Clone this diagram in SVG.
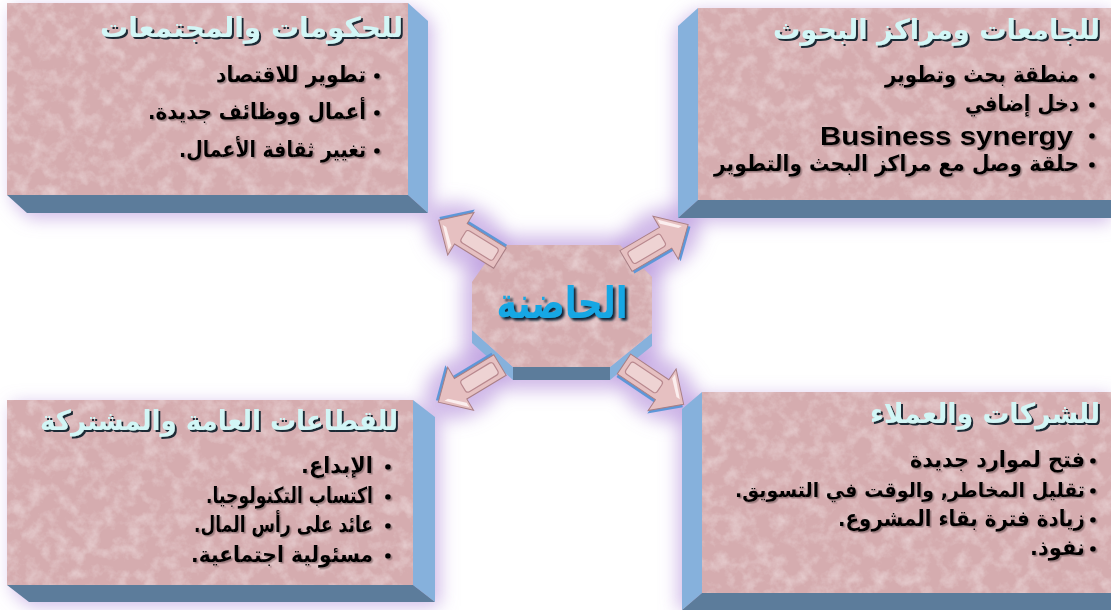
<svg xmlns="http://www.w3.org/2000/svg" xmlns:xlink="http://www.w3.org/1999/xlink" width="1111" height="610" viewBox="0 0 1111 610">
  <style>
    .face { fill: #d5acaf; }
    .sideLight { fill: #86b1dc; }
    .sideDark { fill: #5c7c9b; }
    .glow { fill: #b08ad8; opacity: 0.6; }
    .title { font-family: "DejaVu Sans", "Liberation Sans", sans-serif; font-weight: bold; font-size: 27.5px; fill: #d2f6f6; }
    .item { font-family: "DejaVu Sans", "Liberation Sans", sans-serif; font-weight: bold; font-size: 22px; fill: #000; }
    .item.long { font-size: 20px; }
    .latin { font-family: "Liberation Sans", Arial, sans-serif; font-weight: bold; font-size: 25px; fill: #000; }
    .hub { font-family: "DejaVu Sans", "Liberation Sans", sans-serif; font-weight: bold; font-size: 44px; fill: #18a7e4; }
    .bullet { fill: #000; }
    .arrowBody { fill: #e6c0c1; stroke: #a97f85; stroke-width: 1; }
    .arrowBack { fill: #5e97d8; }
    .arrowInner { fill: #eed3d3; stroke: #b9898f; stroke-width: 1.2; }
    .arrowShine { fill: #fbeeee; }
  </style>
  <defs>
    <filter id="mottle" x="0" y="0" width="1" height="1">
      <feTurbulence type="fractalNoise" baseFrequency="0.07" numOctaves="4" seed="7" result="n"/>
      <feColorMatrix in="n" type="matrix" values="0 0 0 0 0.92  0 0 0 0 0.81  0 0 0 0 0.82  1.0 0 0 0 -0.42" result="c"/>
      <feComposite in="c" in2="SourceGraphic" operator="in" result="t"/>
      <feMerge><feMergeNode in="SourceGraphic"/><feMergeNode in="t"/></feMerge>
    </filter>
    <filter id="soft" x="-30%" y="-30%" width="160%" height="160%">
      <feGaussianBlur stdDeviation="9"/>
    </filter>
    <filter id="titleShadow" x="-5%" y="-20%" width="110%" height="150%">
      <feDropShadow dx="2" dy="2" stdDeviation="0.6" flood-color="#1d2a36" flood-opacity="1"/>
    </filter>
    <filter id="itemShadow" x="-5%" y="-20%" width="110%" height="150%">
      <feDropShadow dx="1.5" dy="1.5" stdDeviation="0.6" flood-color="#7d6465" flood-opacity="0.7"/>
    </filter>
    <filter id="hubShadow" x="-10%" y="-20%" width="120%" height="150%">
      <feDropShadow dx="2.5" dy="2.5" stdDeviation="0.8" flood-color="#0d2236" flood-opacity="1"/>
    </filter>
    <!-- arrow pointing along +x, tail at origin -->
    <path id="arrowPath" d="M0,-12 H46 V-25 L72,0 L46,25 V12 H0 Z"/>
    <rect id="arrowInnerRect" x="5" y="-7" width="38" height="14" rx="3"/>
    <g id="arrow">
      <use xlink:href="#arrowPath" class="arrowBack" transform="translate(1,3)"/>
      <use xlink:href="#arrowPath" class="arrowBody"/>
      <use xlink:href="#arrowInnerRect" class="arrowInner"/>
      <polygon class="arrowShine" points="48,-20 66,-2 62,-2 48,-15"/>
    </g>
  </defs>

  <rect width="1111" height="610" fill="#ffffff"/>

  <!-- lavender haze behind blocks and arrows -->
  <g id="haze" filter="url(#soft)">
    <polygon class="glow" points="12,8 412,8 432,24 432,218 30,218 12,200"/>
    <polygon class="glow" points="694,12 1111,12 1111,222 676,222 676,30"/>
    <polygon class="glow" points="12,404 417,404 440,420 440,606 30,606 12,590"/>
    <polygon class="glow" points="698,396 1111,396 1111,610 678,610 678,414"/>
    <polygon class="glow" points="495,236 624,236 662,272 662,347 614,390 508,390 463,350 463,278"/>
    <ellipse class="glow" cx="467" cy="237" rx="44" ry="30" transform="rotate(32 467 237)"/>
    <ellipse class="glow" cx="659" cy="241" rx="44" ry="30" transform="rotate(-30 659 241)"/>
    <ellipse class="glow" cx="465" cy="385" rx="44" ry="30" transform="rotate(-31 465 385)"/>
    <ellipse class="glow" cx="657" cy="387" rx="44" ry="30" transform="rotate(34 657 387)"/>
  </g>

  <!-- governments and communities -->
  <g id="node-governments">
    <polygon class="sideLight" points="408,3 428,21 428,213 408,195"/>
    <polygon class="sideDark" points="7,195 408,195 428,213 27,213"/>
    <rect class="face" x="7" y="3" width="401" height="192" filter="url(#mottle)"/>
    <text class="title" x="403" y="37" text-anchor="end" textLength="303" lengthAdjust="spacingAndGlyphs" filter="url(#titleShadow)">للحكومات والمجتمعات</text>
    <g filter="url(#itemShadow)">
      <circle class="bullet" cx="377" cy="76" r="2.8"/>
      <circle class="bullet" cx="377" cy="113" r="2.8"/>
      <circle class="bullet" cx="377" cy="151" r="2.8"/>
      <text class="item" x="366" y="82" text-anchor="end" textLength="150" lengthAdjust="spacingAndGlyphs">تطوير للاقتصاد</text>
      <text class="item" x="366" y="119" text-anchor="end" textLength="218" lengthAdjust="spacingAndGlyphs">أعمال ووظائف جديدة.&#x200F;</text>
      <text class="item" x="366" y="157" text-anchor="end" textLength="187" lengthAdjust="spacingAndGlyphs">تغيير ثقافة الأعمال.&#x200F;</text>
    </g>
  </g>

  <!-- universities and research centres -->
  <g id="node-universities">
    <polygon class="sideLight" points="698,8 678,26 678,218 698,200"/>
    <polygon class="sideDark" points="698,200 1111,200 1111,218 678,218"/>
    <rect class="face" x="698" y="8" width="413" height="192" filter="url(#mottle)"/>
    <text class="title" x="1100" y="39" text-anchor="end" textLength="327" lengthAdjust="spacingAndGlyphs" filter="url(#titleShadow)">للجامعات ومراكز البحوث</text>
    <g filter="url(#itemShadow)">
      <circle class="bullet" cx="1092" cy="76" r="2.8"/>
      <circle class="bullet" cx="1092" cy="105" r="2.8"/>
      <circle class="bullet" cx="1092" cy="136" r="2.8"/>
      <circle class="bullet" cx="1092" cy="165" r="2.8"/>
      <text class="item" x="1079" y="82" text-anchor="end" textLength="194" lengthAdjust="spacingAndGlyphs">منطقة بحث وتطوير</text>
      <text class="item" x="1079" y="111" text-anchor="end" textLength="114" lengthAdjust="spacingAndGlyphs">دخل إضافي</text>
      <text class="latin" x="1073" y="145" text-anchor="end" textLength="253" lengthAdjust="spacingAndGlyphs">Business synergy</text>
      <text class="item" x="1079" y="171" text-anchor="end" textLength="365" lengthAdjust="spacingAndGlyphs">حلقة وصل مع مراكز البحث والتطوير</text>
    </g>
  </g>

  <!-- public and joint sectors -->
  <g id="node-sectors">
    <polygon class="sideLight" points="413,400 435,417 435,602 413,585"/>
    <polygon class="sideDark" points="7,585 413,585 435,602 29,602"/>
    <rect class="face" x="7" y="400" width="406" height="185" filter="url(#mottle)"/>
    <text class="title" x="398" y="430" text-anchor="end" textLength="358" lengthAdjust="spacingAndGlyphs" filter="url(#titleShadow)">للقطاعات العامة والمشتركة</text>
    <g filter="url(#itemShadow)">
      <circle class="bullet" cx="388" cy="467" r="2.8"/>
      <circle class="bullet" cx="388" cy="497" r="2.8"/>
      <circle class="bullet" cx="388" cy="526" r="2.8"/>
      <circle class="bullet" cx="388" cy="556" r="2.8"/>
      <text class="item" x="373" y="473" text-anchor="end" textLength="72" lengthAdjust="spacingAndGlyphs">الإبداع.&#x200F;</text>
      <text class="item" x="373" y="503" text-anchor="end" textLength="167" lengthAdjust="spacingAndGlyphs">اكتساب التكنولوجيا.&#x200F;</text>
      <text class="item" x="373" y="532" text-anchor="end" textLength="179" lengthAdjust="spacingAndGlyphs">عائد على رأس المال.&#x200F;</text>
      <text class="item" x="373" y="562" text-anchor="end" textLength="182" lengthAdjust="spacingAndGlyphs">مسئولية اجتماعية.&#x200F;</text>
    </g>
  </g>

  <!-- companies and clients -->
  <g id="node-companies">
    <polygon class="sideLight" points="702,392 682,409 682,610 702,593"/>
    <polygon class="sideDark" points="702,593 1111,593 1111,610 682,610"/>
    <rect class="face" x="702" y="392" width="409" height="201" filter="url(#mottle)"/>
    <text class="title" x="1100" y="423" text-anchor="end" textLength="230" lengthAdjust="spacingAndGlyphs" filter="url(#titleShadow)">للشركات والعملاء</text>
    <g filter="url(#itemShadow)">
      <circle class="bullet" cx="1093" cy="461" r="2.8"/>
      <circle class="bullet" cx="1093" cy="491" r="2.8"/>
      <circle class="bullet" cx="1093" cy="520" r="2.8"/>
      <circle class="bullet" cx="1093" cy="549" r="2.8"/>
      <text class="item" x="1085" y="467" text-anchor="end" textLength="175" lengthAdjust="spacingAndGlyphs">فتح لموارد جديدة</text>
      <text class="item long" x="1085" y="497" text-anchor="end" textLength="350" lengthAdjust="spacingAndGlyphs">تقليل المخاطر, والوقت في التسويق.&#x200F;</text>
      <text class="item" x="1085" y="526" text-anchor="end" textLength="247" lengthAdjust="spacingAndGlyphs">زيادة فترة بقاء المشروع.&#x200F;</text>
      <text class="item" x="1085" y="555" text-anchor="end" textLength="55" lengthAdjust="spacingAndGlyphs">نفوذ.&#x200F;</text>
    </g>
  </g>

  <!-- central incubator block -->
  <g id="node-incubator">
    <polygon class="sideLight" points="472,330 513,367 513,380 472,343"/>
    <polygon class="sideDark" points="513,367 610,367 610,380 513,380"/>
    <polygon class="sideLight" points="610,367 652,333 652,346 610,380"/>
    <polygon class="face" points="498,245 620,245 652,277 652,333 610,367 513,367 472,330 472,282" filter="url(#mottle)"/>
    <text class="hub" x="562" y="318" text-anchor="middle" textLength="131" lengthAdjust="spacingAndGlyphs" filter="url(#hubShadow)">الحاضنة</text>
  </g>

  <!-- arrows from the centre to each block -->
  <g id="connectors">
    <use xlink:href="#arrow" transform="translate(500,258) rotate(211.7)"/>
    <use xlink:href="#arrow" transform="translate(626,261) rotate(-30.4)"/>
    <use xlink:href="#arrow" transform="translate(500,365) rotate(148.9)"/>
    <use xlink:href="#arrow" transform="translate(624,364) rotate(34)"/>
  </g>
</svg>
